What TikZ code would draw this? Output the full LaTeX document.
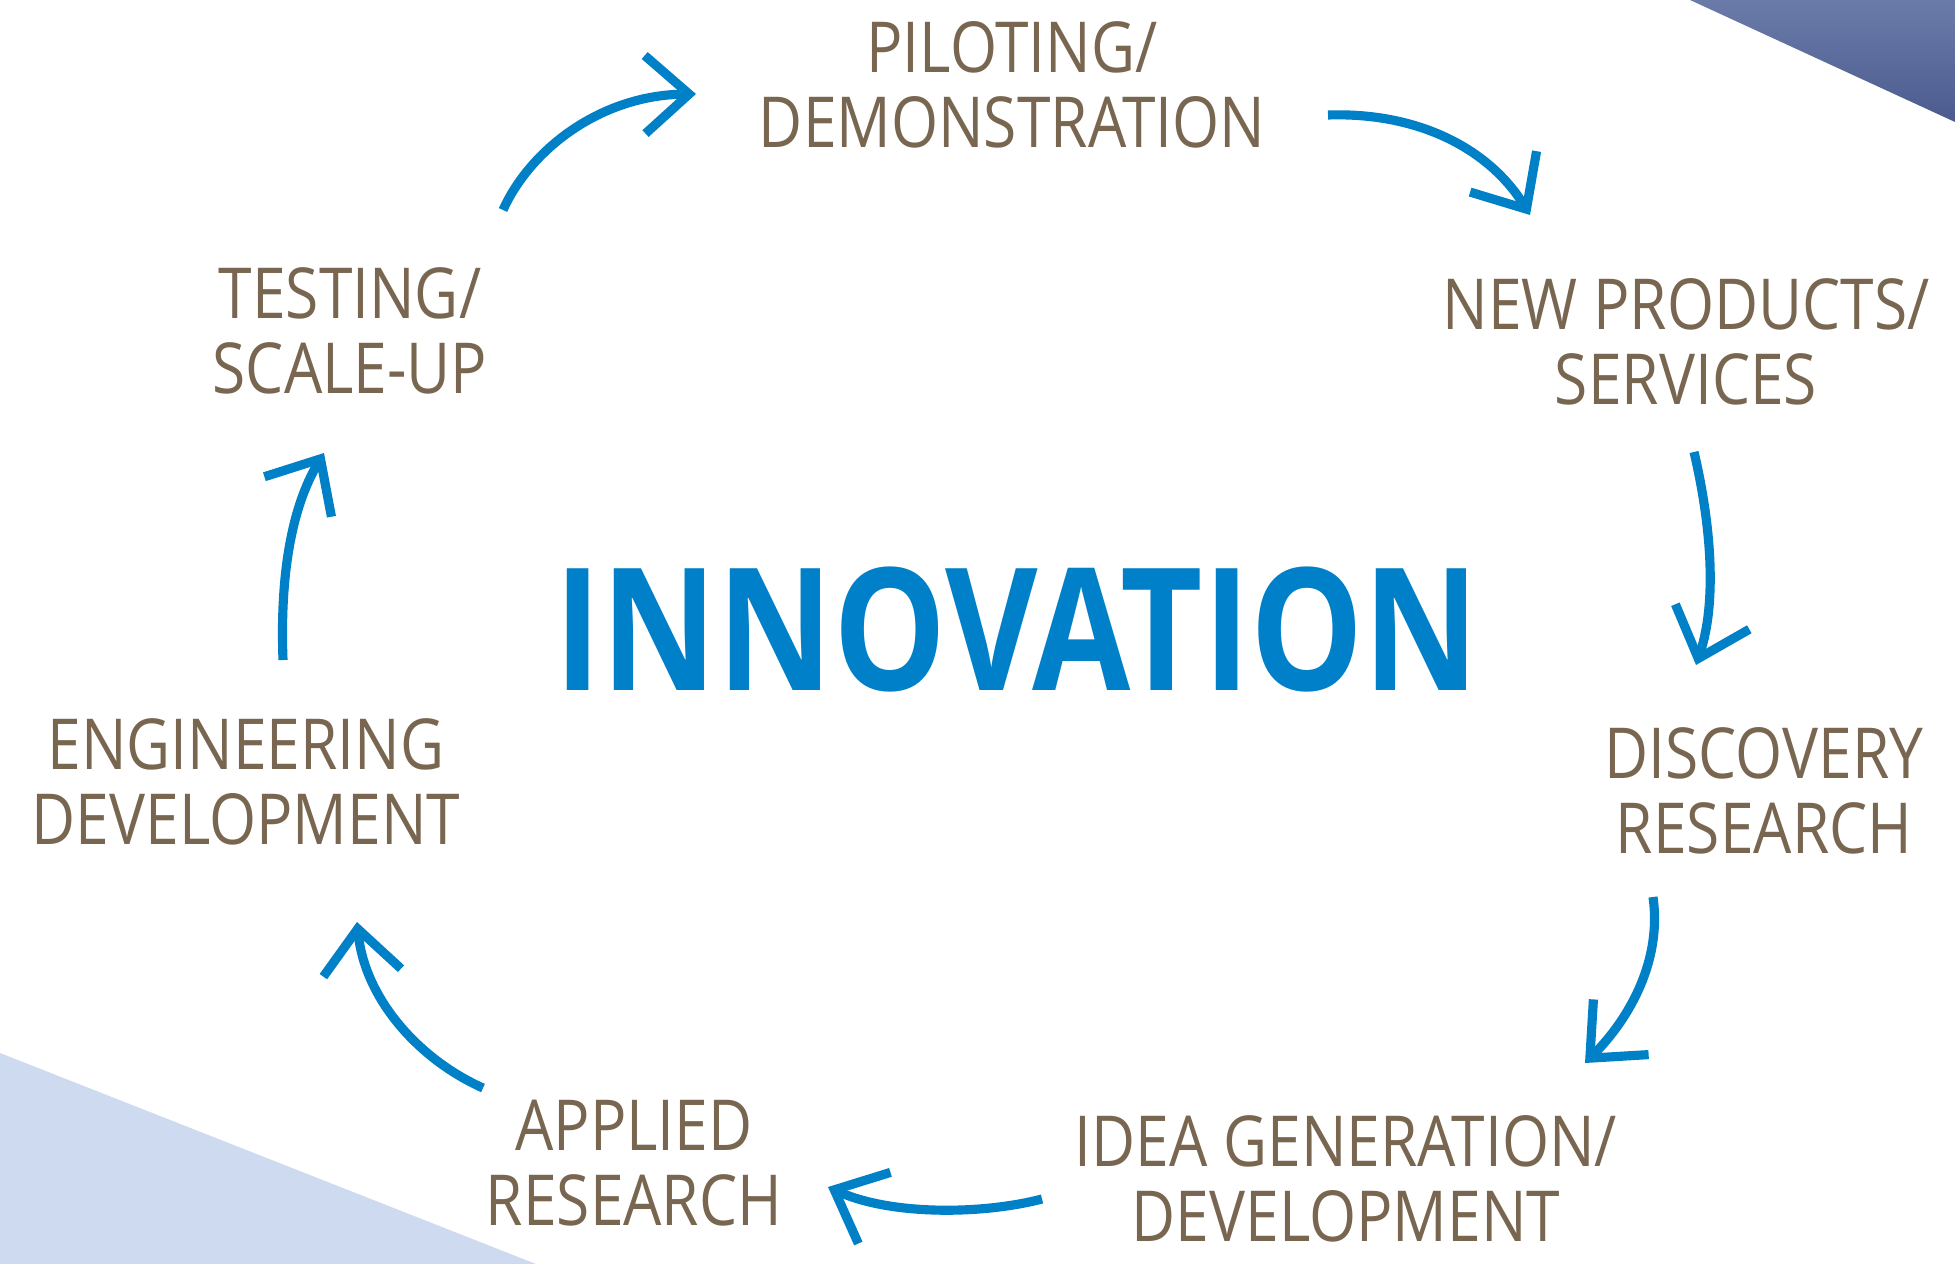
\documentclass[tikz,border=0pt]{standalone}
\usepackage{fontspec}
\usetikzlibrary{arrows.meta}
\newfontfamily\labfont[FakeStretch=0.86]{Open Sans}
\newfontfamily\innofont[FakeStretch=0.835]{Open Sans}
\definecolor{txtbrown}{HTML}{786650}
\definecolor{arrblue}{HTML}{0080C6}
\definecolor{innoblue}{HTML}{0080C8}
\definecolor{lightwedge}{HTML}{CDDAEF}
\definecolor{darktop}{HTML}{6B7BA9}
\definecolor{darkbot}{HTML}{4B5B8E}
\tikzset{
  stage/.style={align=center, inner sep=0pt, text=txtbrown,
    font={\labfont\fontsize{20pt}{21.3pt}\selectfont}},
  cyc/.style={draw=arrblue, line width=2.6pt,
    -{Straight Barb[length=4.4mm, width=7.8mm]}},
}
\begin{document}
\begin{tikzpicture}[x=0.01cm, y=-0.01cm]
\useasboundingbox (0,0) rectangle (1955,1264);
% background wedges
\fill[lightwedge] (0,1053) -- (536,1264) -- (0,1264) -- cycle;
\shade[top color=darktop, bottom color=darkbot] (1690,0) -- (1955,0) -- (1955,122) -- cycle;

% labels
\node[stage] (pilot) at (1012,85) {PILOTING/\\DEMONSTRATION};
\node[stage] (newp)  at (1686,342) {NEW PRODUCTS/\\SERVICES};
\node[stage] (disc)  at (1764,791) {DISCOVERY\\RESEARCH};
\node[stage] (idea)  at (1346,1179) {IDEA GENERATION/\\DEVELOPMENT};
\node[stage] (appl)  at (634,1163) {APPLIED\\RESEARCH};
\node[stage] (eng)   at (246,782) {ENGINEERING\\DEVELOPMENT};
\node[stage] (test)  at (350,331) {TESTING/\\SCALE-UP};
\node[inner sep=0pt, text=innoblue, font={\innofont\bfseries\fontsize{48.5pt}{50pt}\selectfont}] (inno) at (1017,629) {INNOVATION};

% arrow end points
\coordinate (a1s) at (503,210);  \coordinate (a1e) at (696,94);
\coordinate (a2s) at (1328,115); \coordinate (a2e) at (1530,215);
\coordinate (a3s) at (1694,452); \coordinate (a3e) at (1696,665);
\coordinate (a4s) at (1653,897); \coordinate (a4e) at (1585,1063);
\coordinate (a5s) at (1042,1199);\coordinate (a5e) at (828,1187);
\coordinate (a6s) at (483,1088); \coordinate (a6e) at (357,922);
\coordinate (a7s) at (283,660);  \coordinate (a7e) at (324,453);

\draw[cyc] (a1s) .. controls (530,150) and (600,95) .. (a1e);
\draw[cyc] (a2s) .. controls (1420,112) and (1490,150) .. (a2e);
\draw[cyc] (a3s) .. controls (1710,520) and (1718,600) .. (a3e);
\draw[cyc] (a4s) .. controls (1662,960) and (1630,1018) .. (a4e);
\draw[cyc] (a5s) .. controls (980,1215) and (890,1215) .. (a5e);
\draw[cyc] (a6s) .. controls (420,1060) and (365,1000) .. (a6e);
\draw[cyc] (a7s) .. controls (280,580) and (290,510) .. (a7e);
\end{tikzpicture}
\end{document}
